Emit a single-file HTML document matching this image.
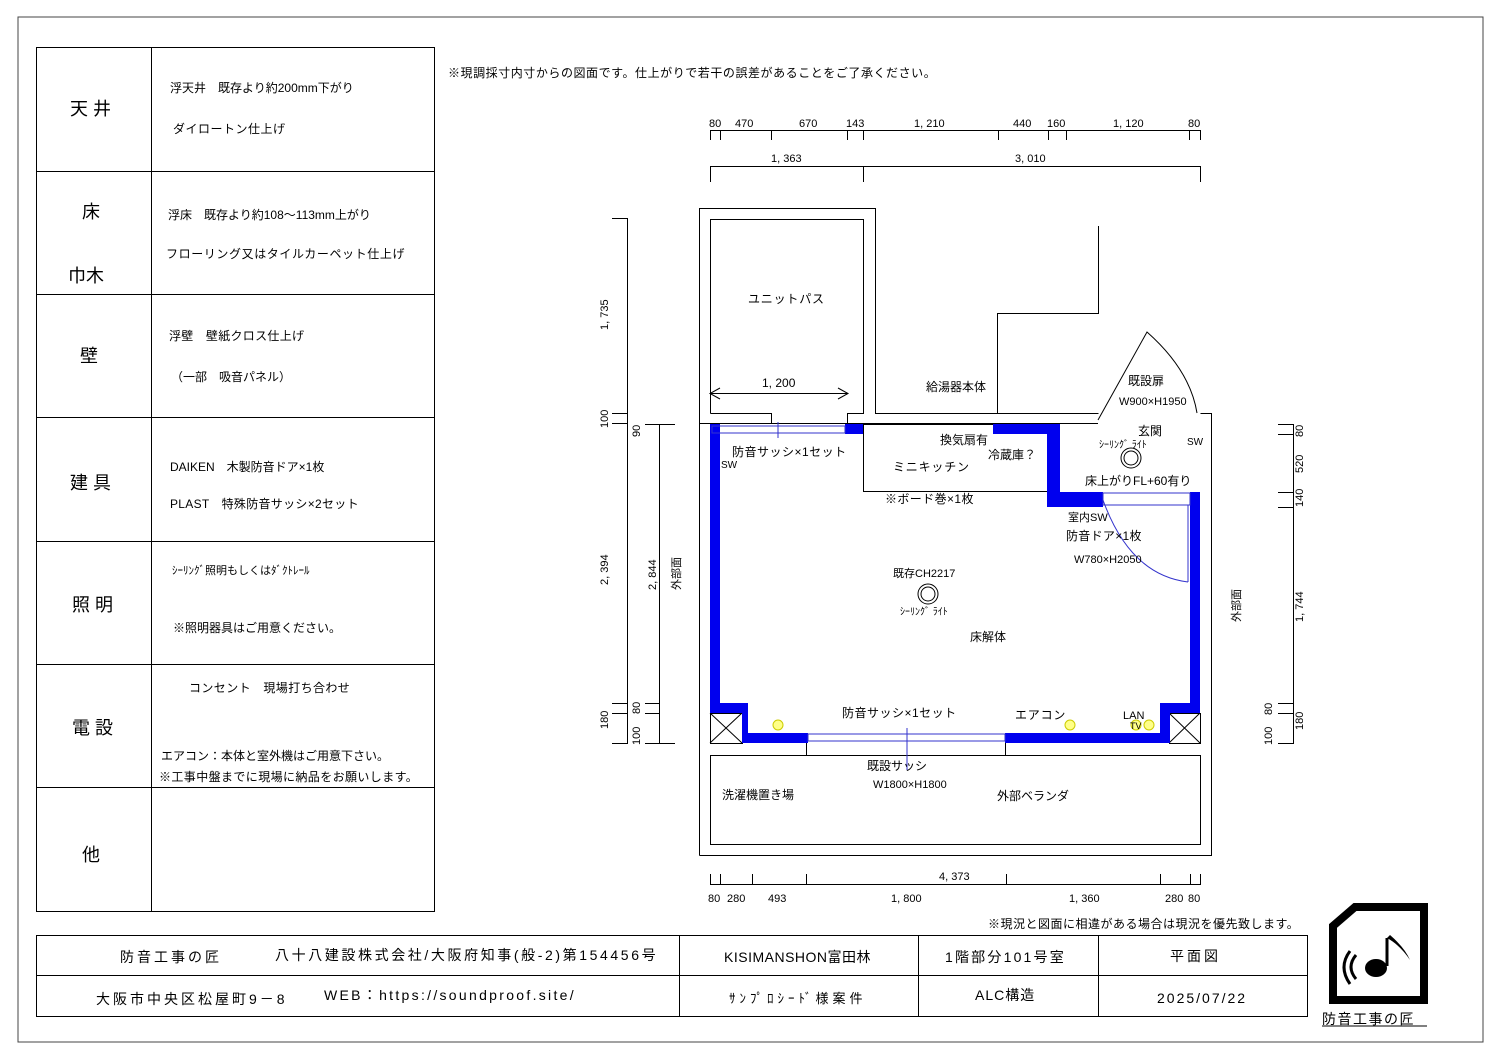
<!DOCTYPE html>
<html><head><meta charset="utf-8"><style>
html,body{margin:0;padding:0;background:#fff}
svg{display:block}
text{font-family:"Liberation Sans","Noto Sans CJK JP",sans-serif;fill:#000}
</style></head><body>
<svg width="1497" height="1058" viewBox="0 0 1497 1058" xmlns="http://www.w3.org/2000/svg">
<rect x="18" y="17" width="1465" height="1025" fill="none" stroke="#444" stroke-width="1"/>
<!-- left table -->
<g stroke="#000" stroke-width="1" fill="none">
<rect x="36.5" y="47.5" width="398" height="864"/>
<line x1="151.5" y1="47" x2="151.5" y2="911"/>
<line x1="36" y1="171.5" x2="434" y2="171.5"/>
<line x1="36" y1="294.5" x2="434" y2="294.5"/>
<line x1="36" y1="417.5" x2="434" y2="417.5"/>
<line x1="36" y1="541.5" x2="434" y2="541.5"/>
<line x1="36" y1="664.5" x2="434" y2="664.5"/>
<line x1="36" y1="787.5" x2="434" y2="787.5"/>
</g>
<g font-size="18">
<text x="70" y="115">天 井</text>
<text x="82" y="218">床</text>
<text x="68" y="282">巾木</text>
<text x="80" y="362">壁</text>
<text x="70" y="489">建 具</text>
<text x="72" y="611">照 明</text>
<text x="72" y="734">電 設</text>
<text x="82" y="861">他</text>
</g>
<g font-size="12">
<text x="170" y="92">浮天井　既存より約200mm下がり</text>
<text x="173" y="133" letter-spacing="0.5">ダイロートン仕上げ</text>
<text x="168" y="219">浮床　既存より約108～113mm上がり</text>
<text x="166" y="258" letter-spacing="0.6">フローリング又はタイルカーペット仕上げ</text>
<text x="169" y="340" letter-spacing="0.3">浮壁　壁紙クロス仕上げ</text>
<text x="171" y="381">（一部　吸音パネル）</text>
<text x="170" y="471">DAIKEN　木製防音ドア×1枚</text>
<text x="170" y="508" letter-spacing="0.3">PLAST　特殊防音サッシ×2セット</text>
<text x="172" y="574" font-size="11">ｼｰﾘﾝｸﾞ照明もしくはﾀﾞｸﾄﾚｰﾙ</text>
<text x="173" y="632">※照明器具はご用意ください。</text>
<text x="189" y="692" letter-spacing="0.4">コンセント　現場打ち合わせ</text>
<text x="161" y="760">エアコン：本体と室外機はご用意下さい。</text>
<text x="159" y="781" letter-spacing="0.4">※工事中盤までに現場に納品をお願いします。</text>
</g>
<text x="448" y="77" font-size="12" letter-spacing="0.55">※現調採寸内寸からの図面です。仕上がりで若干の誤差があることをご了承ください。</text>
<!-- dims top -->
<g stroke="#000" stroke-width="1" fill="none">
<line x1="710" y1="130.5" x2="1201" y2="130.5"/>
<path d="M710.5 130v10M720.5 130v10M771.5 130v10M847.5 130v10M863.5 130v10M998.5 130v10M1048.5 130v10M1066.5 130v10M1189.5 130v10M1200.5 130v10"/>
<line x1="710" y1="166.5" x2="1201" y2="166.5"/>
<path d="M710.5 166v16M863.5 166v16M1200.5 166v16"/>
<line x1="710" y1="884.5" x2="1201" y2="884.5"/>
<path d="M710.5 874v11M720.5 874v11M752.5 874v11M806.5 874v11M1006.5 874v11M1160.5 874v11M1190.5 874v11M1200.5 874v11"/>
<line x1="627.5" y1="218" x2="627.5" y2="743"/>
<path d="M612 218.5h16M612 413.5h16M612 423.5h16M612 703.5h16M612 713.5h16M612 743.5h16"/>
<line x1="659.5" y1="424" x2="659.5" y2="743"/>
<path d="M645 424.5h30M645 703.5h15M645 713.5h15M645 743.5h30"/>
<line x1="1293.5" y1="424" x2="1293.5" y2="743"/>
<path d="M1278 424.5h16M1278 434.5h16M1278 492.5h16M1278 507.5h16M1278 703.5h16M1278 713.5h16M1278 743.5h16"/>
</g>
<g font-size="11">
<text x="709" y="127">80</text><text x="735" y="127">470</text><text x="799" y="127">670</text><text x="846" y="127">143</text>
<text x="914" y="127">1, 210</text><text x="1013" y="127">440</text><text x="1047" y="127">160</text><text x="1113" y="127">1, 120</text><text x="1188" y="127">80</text>
<text x="771" y="162">1, 363</text><text x="1015" y="162">3, 010</text>
<text x="939" y="880">4, 373</text>
<text x="708" y="902">80</text><text x="727" y="902">280</text><text x="768" y="902">493</text><text x="891" y="902">1, 800</text><text x="1069" y="902">1, 360</text><text x="1165" y="902">280</text><text x="1188" y="902">80</text>
</g>
<g font-size="11">
<text transform="translate(608,330) rotate(-90)">1, 735</text>
<text transform="translate(608,428) rotate(-90)">100</text>
<text transform="translate(640,437) rotate(-90)">90</text>
<text transform="translate(608,585) rotate(-90)">2, 394</text>
<text transform="translate(656,590) rotate(-90)">2, 844</text>
<text transform="translate(680,590) rotate(-90)">外部面</text>
<text transform="translate(608,729) rotate(-90)">180</text>
<text transform="translate(640,714) rotate(-90)">80</text>
<text transform="translate(640,745) rotate(-90)">100</text>
<text transform="translate(1303,437) rotate(-90)">80</text>
<text transform="translate(1303,473) rotate(-90)">520</text>
<text transform="translate(1303,507) rotate(-90)">140</text>
<text transform="translate(1303,622) rotate(-90)">1, 744</text>
<text transform="translate(1240,622) rotate(-90)">外部面</text>
<text transform="translate(1272,715) rotate(-90)">80</text>
<text transform="translate(1303,730) rotate(-90)">180</text>
<text transform="translate(1272,745) rotate(-90)">100</text>
</g>
<!-- plan outlines -->
<g stroke="#000" stroke-width="1" fill="none">
<path d="M699.5 855.5V208.5H875.5V413.5H1098.5"/>
<path d="M710.5 413.5V219.5H863.5V413.5H847.5V423.5"/>
<path d="M710.5 413.5H771.5V423.5"/>
<path d="M997.5 413.5V313.5H1098.5V226"/>
<path d="M699.5 423.5H1098"/>
<path d="M1098 420L1147 332Q1190 370 1197 413"/>
<path d="M1200.5 413.5H1211.5V855.5H699.5"/>
<rect x="710.5" y="755.5" width="490" height="89"/>
<rect x="863.5" y="424.5" width="184" height="67"/>
<rect x="710.5" y="713.5" width="32" height="30"/><path d="M710 713L742 743M742 713L710 743"/>
<rect x="1169.5" y="713.5" width="31" height="30"/><path d="M1169 713L1200 743M1200 713L1169 743"/>
<path d="M806.5 743v12M1005.5 743v12"/>
</g>
<line x1="710" y1="393.5" x2="848" y2="393.5" stroke="#000"/>
<path d="M720 388L710 393.5L720 399M838 388L848 393.5L838 399" fill="none" stroke="#000"/>
<!-- blue walls -->
<g fill="#0000ee">
<rect x="710" y="424" width="10" height="289"/>
<rect x="710" y="703" width="38" height="10"/>
<rect x="742" y="703" width="6" height="40"/>
<rect x="742" y="733" width="66" height="10"/>
<rect x="1005" y="733" width="165" height="10"/>
<rect x="1160" y="703" width="10" height="40"/>
<rect x="1160" y="703" width="40" height="10"/>
<rect x="1190" y="492" width="10" height="221"/>
<rect x="845" y="424" width="18" height="10"/>
<rect x="993" y="424" width="67" height="10"/>
<rect x="1047" y="424" width="13" height="83"/>
<rect x="1047" y="492" width="56" height="15"/>
</g>
<g stroke="#3333cc" stroke-width="1" fill="none">
<rect x="712" y="426" width="133" height="7"/>
<line x1="778" y1="422" x2="778" y2="438"/>
<rect x="808" y="734" width="197" height="7"/>
<line x1="907" y1="728" x2="907" y2="770"/>
<rect x="1103" y="493" width="87" height="12"/>
<path d="M1103 500Q1130 575 1188 582"/>
<line x1="1188" y1="505" x2="1188" y2="582"/>
</g>
<g fill="none" stroke="#000">
<circle cx="1131" cy="458" r="10"/><circle cx="1131" cy="458" r="7"/>
<circle cx="928" cy="594" r="10"/><circle cx="928" cy="594" r="7"/>
</g>
<g fill="#ffff88" stroke="#cc0">
<circle cx="778" cy="725" r="5"/><circle cx="1070" cy="725" r="5"/><circle cx="1136" cy="725" r="5"/><circle cx="1149" cy="725" r="5"/>
</g>
<g font-size="12">
<text x="748" y="303" letter-spacing="0.8">ユニットパス</text>
<text x="762" y="387">1, 200</text>
<text x="926" y="391">給湯器本体</text>
<text x="1128" y="385">既設扉</text>
<text x="1119" y="405" font-size="11">W900×H1950</text>
<text x="1138" y="435">玄関</text>
<text x="1099" y="448" font-size="10">ｼｰﾘﾝｸﾞ ﾗｲﾄ</text>
<text x="1187" y="445" font-size="10">SW</text>
<text x="940" y="444">換気扇有</text>
<text x="988" y="459">冷蔵庫？</text>
<text x="893" y="471" letter-spacing="0.8">ミニキッチン</text>
<text x="885" y="503" letter-spacing="0.4">※ボード巻×1枚</text>
<text x="732" y="456" letter-spacing="0.5">防音サッシ×1セット</text>
<text x="721" y="468" font-size="10">SW</text>
<text x="1085" y="485">床上がりFL+60有り</text>
<text x="1068" y="521" font-size="11">室内SW</text>
<text x="1066" y="540" letter-spacing="0.3">防音ドア×1枚</text>
<text x="1074" y="563" font-size="11">W780×H2050</text>
<text x="893" y="577" font-size="11">既存CH2217</text>
<text x="900" y="615" font-size="10">ｼｰﾘﾝｸﾞ ﾗｲﾄ</text>
<text x="970" y="641">床解体</text>
<text x="842" y="717" letter-spacing="0.5">防音サッシ×1セット</text>
<text x="1015" y="719" letter-spacing="0.8">エアコン</text>
<text x="1123" y="719" font-size="11">LAN</text>
<text x="1130" y="729" font-size="9">TV</text>
<text x="867" y="770">既設サッシ</text>
<text x="873" y="788" font-size="11">W1800×H1800</text>
<text x="722" y="799">洗濯機置き場</text>
<text x="997" y="800">外部ベランダ</text>
<text x="988" y="928" letter-spacing="0.5">※現況と図面に相違がある場合は現況を優先致します。</text>
</g>
<!-- title block -->
<g stroke="#000" stroke-width="1" fill="none">
<rect x="36.5" y="935.5" width="1271" height="81"/>
<line x1="36" y1="975.5" x2="1307" y2="975.5"/>
<line x1="679.5" y1="935" x2="679.5" y2="1016"/>
<line x1="918.5" y1="935" x2="918.5" y2="1016"/>
<line x1="1098.5" y1="935" x2="1098.5" y2="1016"/>
</g>
<g font-size="14">
<text x="120" y="962" letter-spacing="3">防音工事の匠</text>
<text x="275" y="960" letter-spacing="2.6">八十八建設株式会社/大阪府知事(般-2)第154456号</text>
<text x="724" y="962" letter-spacing="0.5">KISIMANSHON富田林</text>
<text x="945" y="962" letter-spacing="2.2">1階部分101号室</text>
<text x="1170" y="961" letter-spacing="3">平面図</text>
<text x="96" y="1004" letter-spacing="3">大阪市中央区松屋町9－8</text>
<text x="324" y="1000" letter-spacing="2.3">WEB：https://soundproof.site/</text>
<text x="729" y="1003" font-size="13" letter-spacing="4">ｻﾝﾌﾟﾛｼｰﾄﾞ様案件</text>
<text x="975" y="1000" letter-spacing="1">ALC構造</text>
<text x="1157" y="1003" letter-spacing="2">2025/07/22</text>
</g>
<!-- logo -->
<path d="M1333 1000V926L1355 907H1424V1000Z" fill="none" stroke="#000" stroke-width="8"/>
<path d="M1387 938L1387 966" stroke="#000" stroke-width="3"/>
<path d="M1387 938Q1400 945 1410 960Q1405 948 1390 935Z" fill="#000"/>
<ellipse cx="1376" cy="968" rx="11" ry="9" fill="#000"/>
<path d="M1356 955Q1346 967 1356 979M1350 951Q1338 967 1350 984" fill="none" stroke="#000" stroke-width="3"/>
<text x="1322" y="1024" font-size="14" letter-spacing="1.5">防音工事の匠</text>
<line x1="1322" y1="1026" x2="1427" y2="1026" stroke="#000"/>
</svg>
</body></html>
